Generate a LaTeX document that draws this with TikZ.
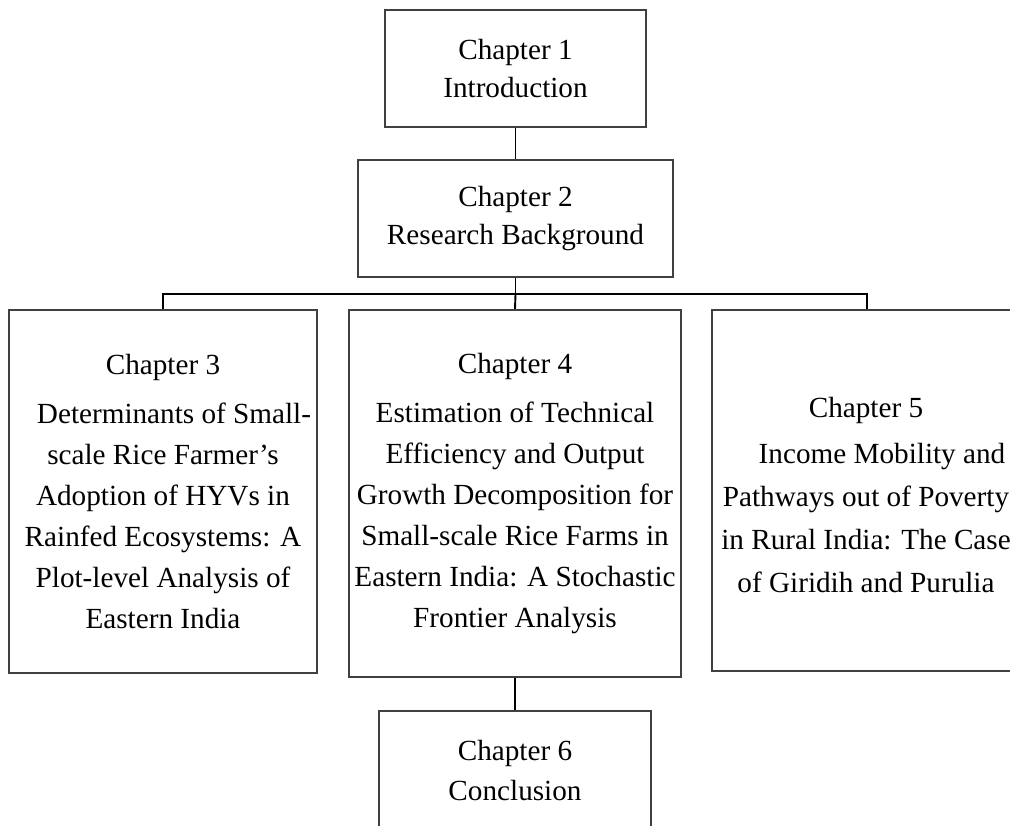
\documentclass[tikz,border=0pt]{standalone}
\usepackage{fontspec}
\setmainfont{Liberation Serif}
\begin{document}
\begin{tikzpicture}[x=1pt,y=-1pt,
  chapbox/.style={draw=black!75, line width=2.4pt, rectangle, inner sep=0pt, align=center,
    font=\fontsize{29.2}{41}\selectfont},
  link/.style={draw=black, line width=1.9pt}]
\useasboundingbox[fill=white] (0,0) rectangle (1010,826);
\node[chapbox, minimum width=261, minimum height=117, font=\fontsize{29.2}{38}\selectfont] (c1) at (515.5,68.5) {Chapter 1\\Introduction};
\node[chapbox, minimum width=315, minimum height=117, font=\fontsize{29.2}{38}\selectfont] (c2) at (515.5,218.5) {Chapter 2\\Research Background};
\node[chapbox, minimum width=308, minimum height=363] (c3) at (163,491.5) {Chapter 3\\[8pt]\hspace*{22pt}Determinants of Small-\\scale Rice Farmer's\\Adoption of HYVs in\\Rainfed Ecosystems: A\\Plot-level Analysis of\\Eastern India};
\node[chapbox, minimum width=332, minimum height=367] (c4) at (515,493.5) {Chapter 4\\[8pt]Estimation of Technical\\Efficiency and Output\\Growth Decomposition for\\Small-scale Rice Farms in\\Eastern India: A Stochastic\\Frontier Analysis};
\node[chapbox, minimum width=310, minimum height=361] (c5) at (867,490.5) {};
\node[font=\fontsize{29.2}{43}\selectfont, align=center, inner sep=0pt] (t5) at (866,495) {Chapter 5\\[3pt]\hspace*{32pt}Income Mobility and\\Pathways out of Poverty\\in Rural India: The Case\\of Giridih and Purulia};
\node[chapbox, minimum width=272, minimum height=120, font=\fontsize{29.2}{40}\selectfont] (c6) at (515,771) {Chapter 6\\Conclusion};
\draw[link] (c1.south) -- (c2.north);
\draw[link] (c2.south) -- ++(0,16) coordinate (bus);
\draw[link] (c3.north) |- (bus) -| (c5.north);
\draw[link] (bus) -- (c4.north);
\draw[link] (c4.south) -- (c6.north);
\end{tikzpicture}
\end{document}
